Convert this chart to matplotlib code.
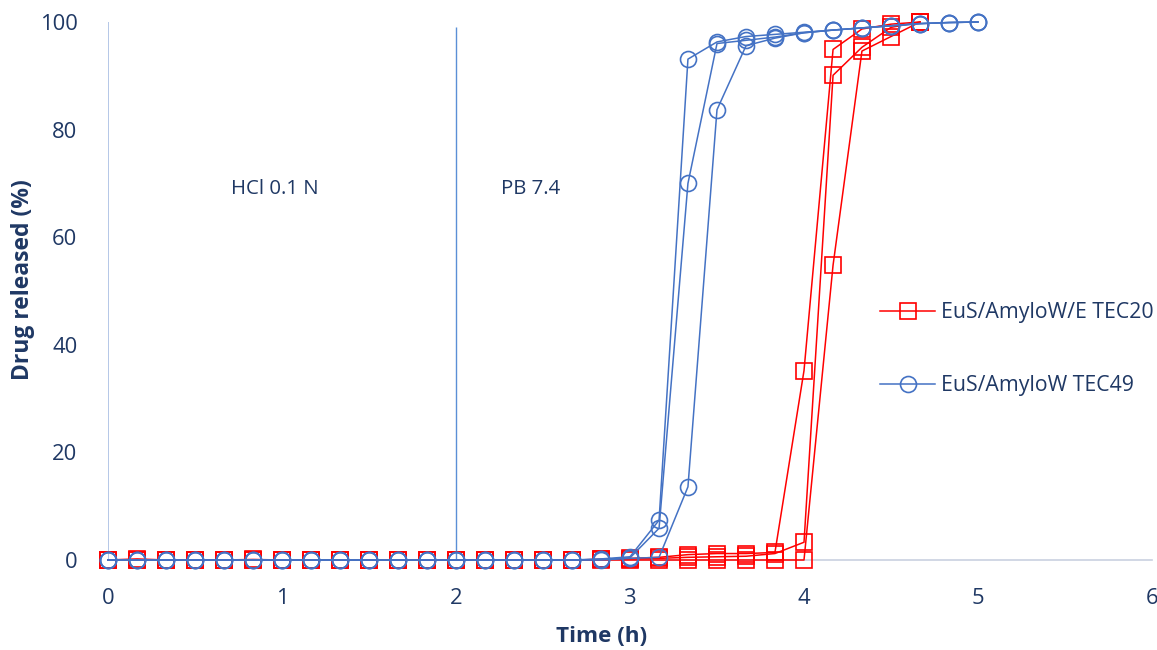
import matplotlib
matplotlib.use("Agg")
import matplotlib.pyplot as plt
from matplotlib.lines import Line2D

# ---- data ----
time_red = [0, 0.167, 0.333, 0.5, 0.667, 0.833, 1.0, 1.167, 1.333, 1.5, 1.667, 1.833,
            2.0, 2.167, 2.333, 2.5, 2.667, 2.833, 3.0, 3.167, 3.333, 3.5, 3.667, 3.833,
            4.0, 4.167, 4.333, 4.5, 4.667]
time_blue = time_red + [4.833, 5.0]

red_a = [0, 0, 0, 0, 0, 0, 0, 0, 0, 0, 0, 0, 0, 0, 0, 0, 0, 0.1, 0.3, 0.5, 1.0, 1.2, 1.2, 1.4,
         35.2, 94.9, 98.7, 99.6, 100]
red_b = [0, 0.2, 0, 0, 0, 0.1, 0, 0, 0, 0, 0, 0, 0, 0, 0, 0, 0, 0.1, 0.2, 0.3, 0.5, 0.6, 0.7, 1.2,
         3.3, 90.1, 95.3, 99.0, 100]
red_c = [0, 0, 0, 0, 0, 0, 0, 0, 0, 0, 0, 0, 0, 0, 0, 0, 0, 0, 0, 0, 0, 0, 0, 0,
         0, 54.8, 94.6, 97.3, 100]

blue_a = [0, 0, 0, 0, 0, 0, 0, 0, 0, 0, 0, 0, 0, 0, 0, 0, 0, 0.2, 0.6, 7.4, 93.1, 96.3, 97.3, 97.7,
          98.1, 98.5, 98.9, 99.3, 99.7, 99.9, 100]
blue_b = [0, 0, 0, 0, 0, 0, 0, 0, 0, 0, 0, 0, 0, 0, 0, 0, 0, 0.1, 0.4, 5.9, 70.0, 96.0, 96.6, 97.2,
          98.0, 98.5, 98.9, 99.3, 99.7, 99.9, 100]
blue_c = [0, 0, 0, 0, 0, 0, 0, 0, 0, 0, 0, 0, 0, 0, 0, 0, 0, 0, 0.3, 0.5, 13.6, 83.7, 95.6, 97.0,
          98.0, 98.5, 98.9, 99.3, 99.7, 99.9, 100]

phase_x = [0, 2]
phase_labels = ["HCl 0.1 N", "PB 7.4"]
phase_label_x = [0.96, 2.43]
legend_labels = ["EuS/AmyloW/E TEC20", "EuS/AmyloW TEC49"]

# ---- style ----
RED = "#ff0000"
BLUE = "#4472c4"
NAVY = "#1f3864"
plt.rcParams["font.family"] = ["Open Sans", "DejaVu Sans"]

fig = plt.figure(figsize=(11.57, 6.5), dpi=100)
ax = fig.add_axes([108 / 1157, 1 - 560 / 650, 1044 / 1157, 538 / 650])

# phase boundary lines
ax.vlines(phase_x[0], 0, 100, color="#b4c7e7", lw=1.4, zorder=1)
ax.vlines(phase_x[1], 0, 99, color="#5b8fd6", lw=1.0, zorder=1)

for t in (red_a, red_b, red_c):
    ax.plot(time_red, t, color=RED, lw=1.1, marker="s", ms=12, mfc="none",
            mec=RED, mew=1.2, clip_on=False, zorder=3)
for t in (blue_a, blue_b, blue_c):
    ax.plot(time_blue, t, color=BLUE, lw=1.1, marker="o", ms=11.5, mfc="none",
            mec=BLUE, mew=1.2, clip_on=False, zorder=4)

ax.set_xlim(0, 6)
ax.set_ylim(0, 100)
ax.set_xticks(range(0, 7))
ax.set_yticks(range(0, 101, 20))
for s in ("top", "right", "left"):
    ax.spines[s].set_visible(False)
ax.spines["bottom"].set_color("#c9d1e0")
ax.spines["bottom"].set_linewidth(1.2)
ax.tick_params(length=0, labelsize=15.8, colors=NAVY)
ax.tick_params(axis="x", pad=20)
ax.tick_params(axis="y", pad=22)

ax.set_xlabel("Time (h)", fontsize=16.2, fontweight="bold", color=NAVY)
ax.set_ylabel("Drug released (%)", fontsize=16.5, fontweight="bold", color=NAVY)
ax.xaxis.set_label_coords((602 - 108) / 1044, -(637 - 560) / 538)
ax.yaxis.set_label_coords((23 - 108) / 1044, (560 - 280) / 538)
ax.xaxis.label.set_verticalalignment("center")
ax.yaxis.label.set_verticalalignment("center")

for lx, lab in zip(phase_label_x, phase_labels):
    ax.text(lx, 69, lab, fontsize=14.7, color=NAVY, ha="center", va="center")

handles = [Line2D([], [], color=RED, lw=1.1, marker="s", ms=12, mfc="none", mec=RED, mew=1.2),
           Line2D([], [], color=BLUE, lw=1.1, marker="o", ms=11.5, mfc="none", mec=BLUE, mew=1.2)]
leg = fig.legend(handles, legend_labels, loc="center left",
                 bbox_to_anchor=(880 / 1157, 1 - 349 / 650), frameon=False,
                 fontsize=15.3, labelspacing=2.45, handlelength=2.6, handletextpad=0.25,
                 borderaxespad=0, borderpad=0)
for txt in leg.get_texts():
    txt.set_color(NAVY)

fig.savefig("out.png", dpi=100)
